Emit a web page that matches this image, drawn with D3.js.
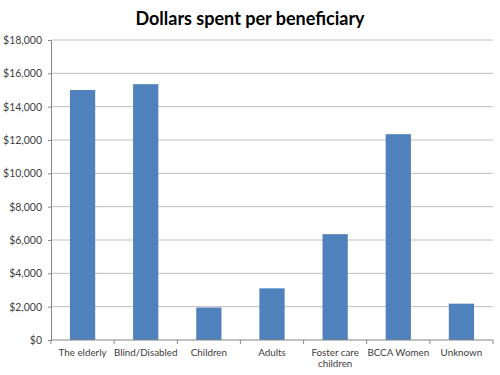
<!DOCTYPE html>
<html lang="en">
<head>
<meta charset="UTF-8">
<title>Dollars spent per beneficiary</title>
<style>
    body { margin: 0; background: #fff; }
    svg text { font-family: Lato, "Open Sans", sans-serif; }
    .tick text { fill: #404040; font-size: 10.5px; }
</style>
</head>
<body>
<svg width="500" height="375"></svg>
<script src="https://d3js.org/d3.v7.min.js"></script>
<script>
// Data
const categories = ["The elderly", "Blind/Disabled", "Children", "Adults", "Foster care children", "BCCA Women", "Unknown"];
const values = [15000, 15350, 1950, 3100, 6350, 12350, 2180];
const yTicks = [0, 2000, 4000, 6000, 8000, 10000, 12000, 14000, 16000, 18000];

const svg = d3.select("svg");
const margin = { top: 40, right: 7, bottom: 35, left: 51 };
const width = 500 - margin.left - margin.right,
    height = 375 - margin.top - margin.bottom;

const g = svg.append("g").attr("transform", `translate(${margin.left},${margin.top})`);

const x = d3.scaleBand().domain(categories).range([0, width]).paddingInner(0.6).paddingOuter(0.3);
const y = d3.scaleLinear().domain([0, 18000]).range([height, 0]);

// gridlines
g.append("g").selectAll("line").data(yTicks.slice(1)).join("line")
    .attr("x1", 0).attr("x2", width)
    .attr("y1", d => y(d)).attr("y2", d => y(d))
    .attr("stroke", "#c0c0c0").attr("stroke-width", 1);

// bars
g.append("g").selectAll("rect").data(values).join("rect")
    .attr("x", (d, i) => x(categories[i]))
    .attr("y", d => y(d))
    .attr("width", x.bandwidth())
    .attr("height", d => height - y(d))
    .attr("fill", "#4f81bd");

// y axis
const yAxis = g.append("g")
    .call(d3.axisLeft(y).tickValues(yTicks).tickSize(3).tickPadding(6)
        .tickFormat(d => "$" + d3.format(",")(d)));
yAxis.select(".domain").attr("stroke", "#868686");
yAxis.selectAll(".tick line").attr("stroke", "#868686");

// x axis: ticks between categories
const step = x.step();
const xAxis = g.append("g").attr("transform", `translate(0,${height})`);
xAxis.append("line").attr("x1", 0).attr("x2", width).attr("stroke", "#868686");
xAxis.selectAll(".sep").data(d3.range(categories.length + 1)).join("line")
    .attr("class", "sep")
    .attr("x1", i => i * step).attr("x2", i => i * step)
    .attr("y1", 0).attr("y2", 4)
    .attr("stroke", "#868686");

// category labels (wrapped like the original)
const labelLines = { "Foster care children": ["Foster care", "children"] };
xAxis.selectAll(".lbl").data(categories).join("text")
    .attr("class", "lbl")
    .attr("text-anchor", "middle")
    .attr("fill", "#404040")
    .attr("font-size", "9.8px")
    .each(function(d) {
        const lines = labelLines[d] || [d];
        d3.select(this).selectAll("tspan").data(lines).join("tspan")
            .attr("x", x(d) + x.bandwidth() / 2)
            .attr("y", (l, i) => 16 + i * 11)
            .text(l => l);
    });

// title
svg.append("text")
    .attr("x", 250).attr("y", 25)
    .attr("text-anchor", "middle")
    .attr("font-size", "18px")
    .attr("font-weight", "bold")
    .attr("fill", "#000")
    .text("Dollars spent per beneficiary");
</script>
</body>
</html>
